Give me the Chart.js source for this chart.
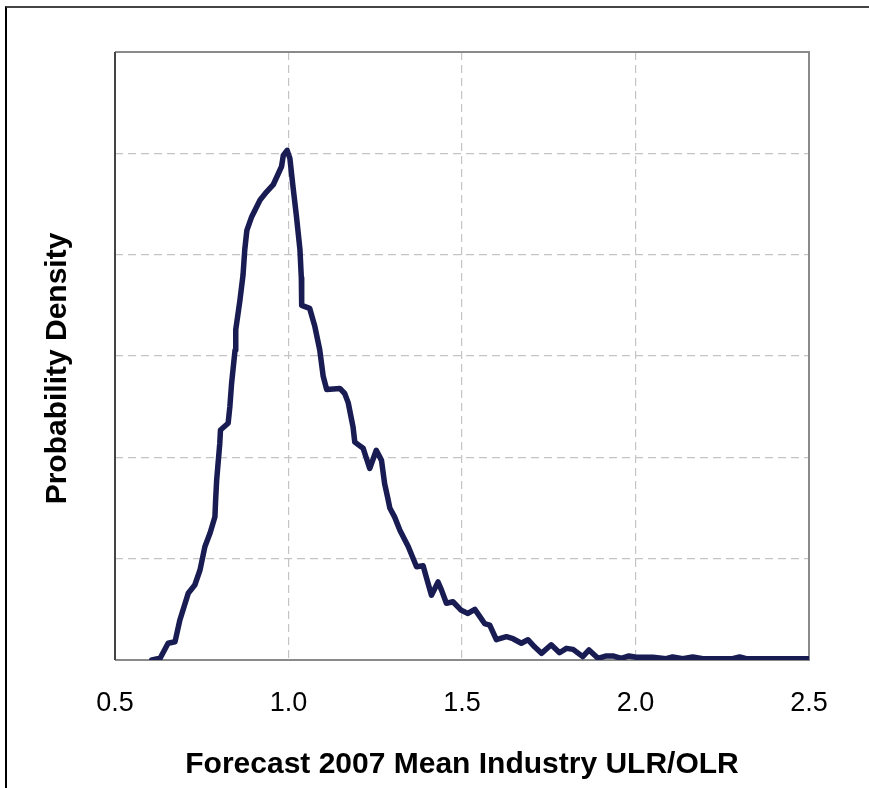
<!DOCTYPE html>
<html>
<head>
<meta charset="utf-8">
<script src="https://cdn.jsdelivr.net/npm/chart.js@4.4.1/dist/chart.umd.min.js"></script>
<style>
  html, body { margin: 0; padding: 0; background: #fff; }
  #wrap { position: relative; width: 869px; height: 788px; overflow: hidden; }
  #frame { position: absolute; left: 5px; top: 6px; width: 900px; height: 900px;
           border-left: 2px solid #000; border-top: 2px solid #444; }
  canvas { position: absolute; left: 0; top: 0; }
</style>
</head>
<body>
<div id="wrap">
  <div id="frame"></div>
  <canvas id="density" width="869" height="788"></canvas>
</div>
<script>
// ULR/OLR ratio and the matching probability density
const ratio = [
  0.606, 0.630, 0.653, 0.673, 0.687, 0.711, 0.730, 0.745, 0.759, 0.774,
  0.788, 0.790, 0.793, 0.802, 0.804, 0.826, 0.831, 0.836, 0.846, 0.848,
  0.860, 0.869, 0.874, 0.880, 0.894, 0.918, 0.937, 0.956, 0.980, 0.985,
  0.996, 1.004, 1.013, 1.023, 1.033, 1.037, 1.038, 1.061, 1.076, 1.090,
  1.100, 1.110, 1.148, 1.162, 1.172, 1.186, 1.191, 1.215, 1.234, 1.253,
  1.268, 1.277, 1.286, 1.292, 1.306, 1.321, 1.345, 1.369, 1.388, 1.397,
  1.412, 1.431, 1.441, 1.455, 1.474, 1.498, 1.517, 1.537, 1.551, 1.565,
  1.580, 1.599, 1.628, 1.647, 1.671, 1.690, 1.709, 1.729, 1.757, 1.781,
  1.801, 1.820, 1.848, 1.866, 1.892, 1.916, 1.935, 1.959, 1.981, 2.002,
  2.050, 2.088, 2.107, 2.136, 2.165, 2.194, 2.280, 2.300, 2.319, 2.500
];
const density = [
  0.000, 0.017, 0.165, 0.180, 0.395, 0.658, 0.740, 0.888, 1.118, 1.253,
  1.414, 1.579, 1.776, 2.140, 2.270, 2.336, 2.500, 2.730, 3.060, 3.260,
  3.550, 3.800, 4.050, 4.240, 4.375, 4.540, 4.620, 4.690, 4.870, 4.980,
  5.030, 4.950, 4.670, 4.375, 4.050, 3.770, 3.500, 3.470, 3.290, 3.060,
  2.800, 2.670, 2.680, 2.630, 2.540, 2.300, 2.150, 2.090, 1.890, 2.070,
  1.970, 1.740, 1.600, 1.500, 1.410, 1.280, 1.120, 0.920, 0.930, 0.820,
  0.640, 0.770, 0.690, 0.560, 0.575, 0.490, 0.460, 0.500, 0.430, 0.360,
  0.345, 0.200, 0.230, 0.210, 0.165, 0.200, 0.130, 0.066, 0.150, 0.072,
  0.115, 0.105, 0.033, 0.099, 0.017, 0.040, 0.040, 0.017, 0.040, 0.027,
  0.027, 0.013, 0.030, 0.013, 0.030, 0.013, 0.013, 0.030, 0.013, 0.013
];
const xTicks = [0.5, 1.0, 1.5, 2.0, 2.5];

const points = ratio.map((x, i) => ({ x: x, y: density[i] }));

// dashed grey grid, hidden on the plot edges
const edgeless = (first, last) => (ctx) => {
  const v = ctx.tick ? ctx.tick.value : null;
  return (v === first || v === last) ? 'rgba(0,0,0,0)' : '#c4c4c4';
};

// plot frame: grey top/right/bottom, darker left
const plotFrame = {
  id: 'plotFrame',
  beforeDatasetsDraw(chart) {
    const { ctx, chartArea: a } = chart;
    ctx.save();
    ctx.lineWidth = 2;
    ctx.strokeStyle = '#8a8a8a';
    ctx.beginPath();
    ctx.moveTo(a.left, a.top);
    ctx.lineTo(a.right, a.top);
    ctx.lineTo(a.right, a.bottom);
    ctx.lineTo(a.left, a.bottom);
    ctx.stroke();
    ctx.strokeStyle = '#444';
    ctx.beginPath();
    ctx.moveTo(a.left, a.top);
    ctx.lineTo(a.left, a.bottom);
    ctx.stroke();
    ctx.restore();
  }
};

const titleFont = { family: 'Liberation Sans, Arial', size: 30, weight: 'bold' };

const ctx = document.getElementById('density').getContext('2d');
new Chart(ctx, {
  type: 'scatter',
  data: {
    datasets: [{
      data: points,
      showLine: true,
      borderColor: '#181c52',
      borderWidth: 5.5,
      borderJoinStyle: 'round',
      borderCapStyle: 'round',
      pointRadius: 0,
      tension: 0
    }]
  },
  options: {
    responsive: false,
    animation: false,
    layout: { padding: { top: 52, right: 60, left: 0, bottom: 0 } },
    plugins: { legend: { display: false }, tooltip: { enabled: false } },
    scales: {
      x: {
        type: 'linear',
        min: 0.5,
        max: 2.5,
        afterBuildTicks: (axis) => { axis.ticks = xTicks.map(v => ({ value: v })); },
        afterFit: (axis) => { axis.height = 128; },
        border: { display: false, dash: [8, 5] },
        grid: { color: edgeless(0.5, 2.5), lineWidth: 1.2, drawTicks: false },
        ticks: {
          padding: 27,
          color: '#000',
          font: { family: 'Liberation Sans, Arial', size: 27 },
          callback: (v) => Number(v).toFixed(1)
        },
        title: {
          display: true,
          text: 'Forecast 2007 Mean Industry ULR/OLR',
          color: '#000',
          font: titleFont,
          padding: { top: 0, bottom: 5 }
        }
      },
      y: {
        min: 0,
        max: 6,
        ticks: { stepSize: 1, display: false },
        afterFit: (axis) => { axis.width = 115; },
        border: { display: false, dash: [8, 5] },
        grid: { color: edgeless(0, 6), lineWidth: 1.2, drawTicks: false },
        title: {
          display: true,
          // trailing spaces nudge the rotated title downwards
          text: 'Probability Density   ',
          color: '#000',
          font: titleFont,
          padding: { top: 40, bottom: 0 }
        }
      }
    }
  },
  plugins: [plotFrame]
});
</script>
</body>
</html>
